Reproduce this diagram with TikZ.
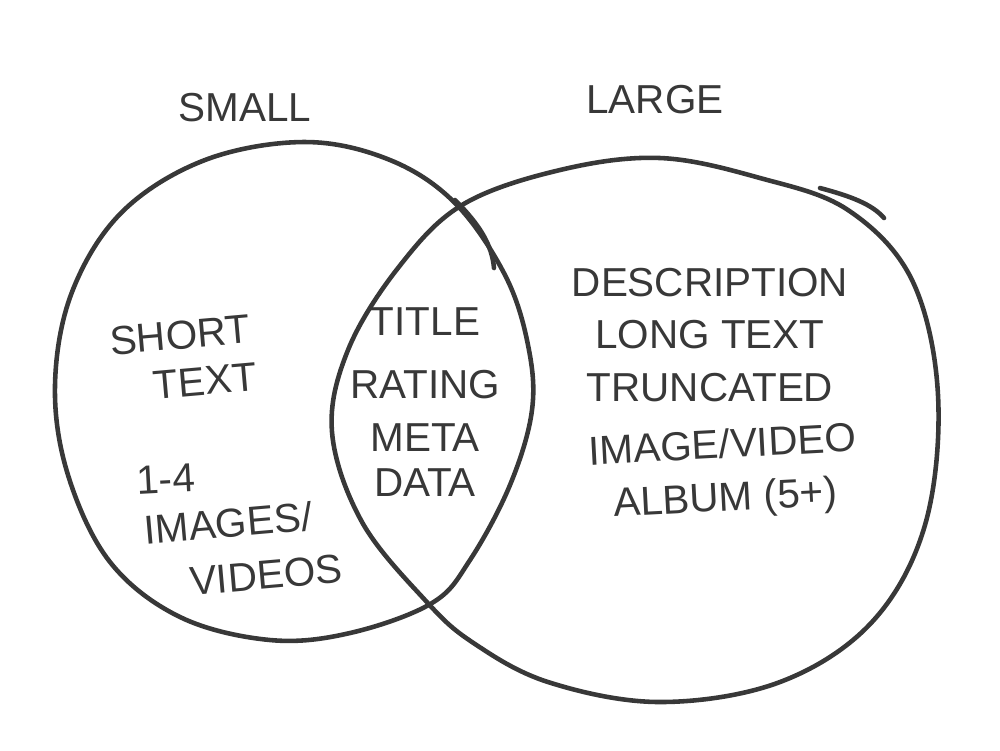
\documentclass[tikz,border=0pt]{standalone}
\usepackage{fontspec}
\setmainfont{Liberation Sans}
\begin{document}
\begin{tikzpicture}[x=0.01cm, y=-0.01cm,
        pen/.style={line width=1.3pt, color=black!78, line join=round, line cap=round},
        word/.style={font=\fontsize{11.5}{14}\selectfont, text=black!78, align=center, inner sep=0pt}]
    \useasboundingbox (0,0) rectangle (1000,750);
    % small set
    \draw[pen] plot[smooth cycle, tension=0.6] coordinates {(305,142) (390,160) (455,203) (505,275) (528,345) (532,410)
        (510,485) (470,560) (432,603) (350,633) (270,640) (180,617) (110,562) (68,475) (55,385) (72,292) (122,212) (205,160)};
    \draw[pen] (455,200) .. controls (480,225) and (492,245) .. (494,268);
    % large set
    \draw[pen] plot[smooth cycle, tension=0.6] coordinates {(332,432) (348,350) (398,268) (462,205) (560,170) (660,158)
        (760,178) (848,210) (912,280) (938,395) (925,525) (872,622) (780,682) (660,702) (548,682) (472,642) (425,600) (362,522)};
    \draw[pen] (820,188) .. controls (850,196) and (872,204) .. (884,218);
    % labels
    \node[word] (small) at (245,108) {SMALL};
    \node[word] (large) at (655,100) {LARGE};
    \node[word, rotate=5] (short) at (180,335) {SHORT};
    \node[word, rotate=5] (shorttext) at (205,381) {TEXT};
    \node[word, rotate=3] (fewnum) at (166,479) {1-4};
    \node[word, rotate=5] (fewimg) at (228,523) {IMAGES/};
    \node[word, rotate=5] (fewvid) at (266,575) {VIDEOS};
    \node[word] (both) at (425,402) {TITLE\\[4pt]RATING\\[1pt]META\\[-1pt]DATA};
    \node[word] (many) at (710,335) {DESCRIPTION\\[1pt]LONG TEXT\\[1pt]TRUNCATED};
    \node[word, rotate=3] (album) at (724,474) {IMAGE/VIDEO\\[1pt]ALBUM (5+)};
\end{tikzpicture}
\end{document}
